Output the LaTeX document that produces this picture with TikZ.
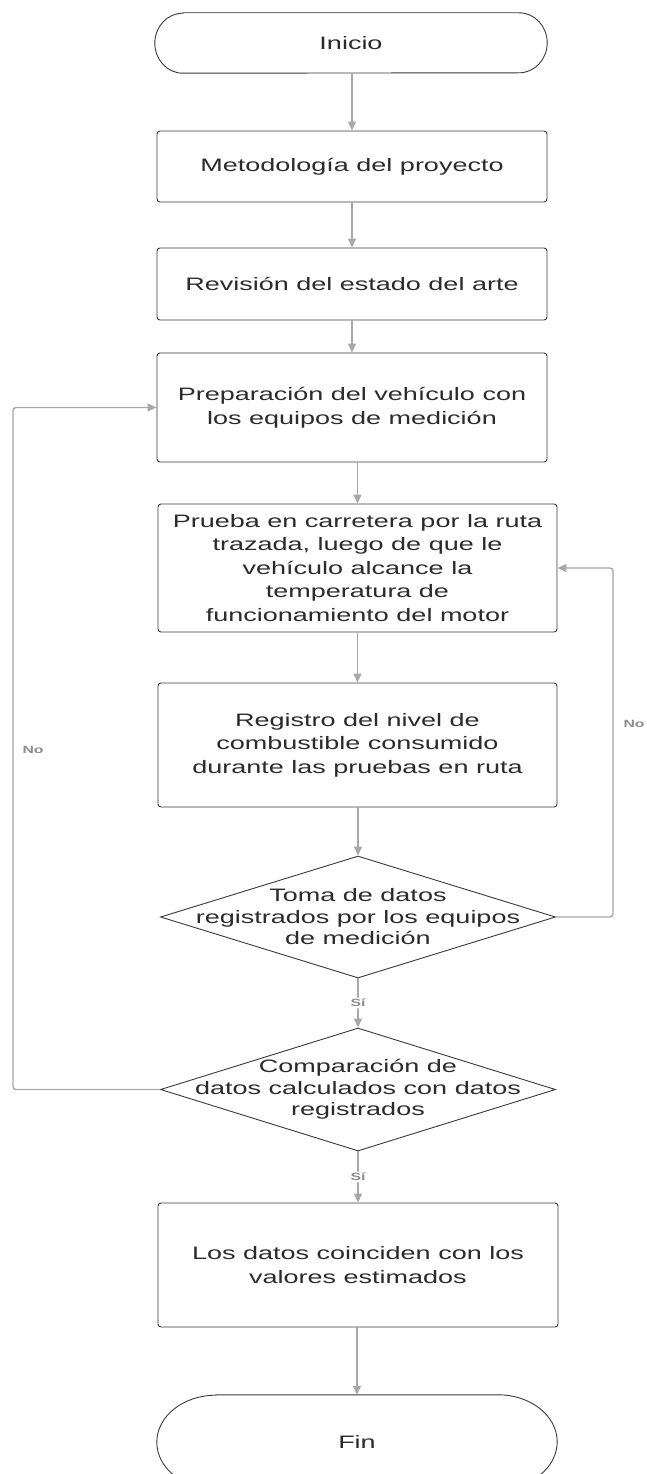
\documentclass[tikz,border=0pt]{standalone}
\usepackage{fontspec}
\setmainfont[FakeStretch=1.5]{Liberation Sans}
\usetikzlibrary{arrows.meta,shapes.geometric,calc}
\definecolor{boxc}{HTML}{3A3A3A}
\definecolor{linec}{HTML}{A8A8A8}
\definecolor{txtc}{HTML}{2B2B2B}
\definecolor{lblc}{HTML}{8C8C8C}
\tikzset{
  box/.style={rectangle, draw=boxc, line width=0.9pt, rounded corners=3pt, fill=white,
    text=txtc, align=center, font=\fontsize{18}{23.5}\selectfont, inner sep=0pt},
  term/.style={rectangle, text=txtc, font=\fontsize{18}{23.5}\selectfont, inner sep=0pt},
  termline/.style={draw=boxc, line width=0.9pt},
  dia/.style={diamond, draw=boxc, line width=0.9pt, inner sep=0pt, fill=white},
  diatext/.style={text=txtc, align=center, font=\fontsize{18}{21.5}\selectfont, inner sep=0pt},
  conn/.style={draw=linec, line width=1.4pt, -{Triangle[width=8pt,length=9pt]}, rounded corners=3pt},
  lbl/.style={text=lblc, font=\fontsize{10.5}{12}\selectfont\bfseries, inner sep=1.5pt},
}
\newcommand{\stadiumpath}[3]{%
  \draw[termline] ($(#1.north west)+(#2,0pt)$) -- ($(#1.north east)+(-#2,0pt)$)
    arc[start angle=90,end angle=-90,x radius=#2,y radius=#3]
    -- ($(#1.south west)+(#2,0pt)$)
    arc[start angle=270,end angle=90,x radius=#2,y radius=#3] -- cycle;}
\begin{document}
\begin{tikzpicture}[x=1pt,y=-1pt]
\useasboundingbox (0,0) rectangle (646,1474);
\clip (0,0) rectangle (646,1474);
\fill[white] (0,0) rectangle (646,1474);

% terminals
\node[term, minimum width=392pt, minimum height=60pt] (ini) at (351,43) {Inicio};
\stadiumpath{ini}{28pt}{30pt}

\node[box, minimum width=390pt, minimum height=71pt] (m1) at (352,166.5) {Metodología del proyecto};
\node[box, minimum width=390pt, minimum height=72pt] (m2) at (352,284) {Revisión del estado del arte};
\node[box, minimum width=390pt, minimum height=109pt] (m3) at (352,407.5) {Preparación del vehículo con\\los equipos de medición};
\node[box, minimum width=399pt, minimum height=128pt] (m4) at (357.5,568) {Prueba en carretera por la ruta\\trazada, luego de que le\\vehículo alcance la\\temperatura de\\funcionamiento del motor};
\node[box, minimum width=399pt, minimum height=124pt] (m5) at (357.5,745) {Registro del nivel de\\combustible consumido\\durante las pruebas en ruta};

\node[dia, minimum width=395pt, minimum height=122pt] (d1) at (358,917) {};
\node[diatext] (d1t) at (358,917) {Toma de datos\\registrados por los equipos\\de medición};
\node[dia, minimum width=395pt, minimum height=123pt] (d2) at (358,1089.5) {};
\node[diatext] (d2t) at (358,1089.5) {Comparación de\\datos calculados con datos\\registrados};

\node[box, minimum width=400pt, minimum height=124pt] (m6) at (358,1265) {Los datos coinciden con los\\valores estimados};

\node[term, minimum width=400pt, minimum height=94pt] (fin) at (357,1442) {Fin};
\stadiumpath{fin}{59pt}{47pt}

% connectors
\draw[conn] (ini.south -| m1.north) -- (m1.north);
\draw[conn] (m1) -- (m2);
\draw[conn] (m2) -- (m3);
\draw[conn] (m4.north |- m3.south) -- (m4.north);
\draw[conn] (m4) -- (m5);
\draw[conn] (m5.south -| d1.north) -- (d1.north);
\draw[conn] (d1) -- (d2) node[lbl, fill=white, pos=0.5] (s1) {Sí};
\draw[conn] (d2) -- (m6) node[lbl, fill=white, pos=0.5] (s2) {Sí};
\draw[conn] (m6.south -| fin.north) -- (fin.north);

\coordinate (lx) at (13,750);
\coordinate (rx) at (613,742);
\draw[conn] (d2.west) -| (lx) |- (m3.west);
\draw[conn] (d1.east) -| (rx) |- (m4.east);
\node[lbl] (no1) at (33,750) {No};
\node[lbl] (no2) at (634,724) {No};
\end{tikzpicture}
\end{document}
